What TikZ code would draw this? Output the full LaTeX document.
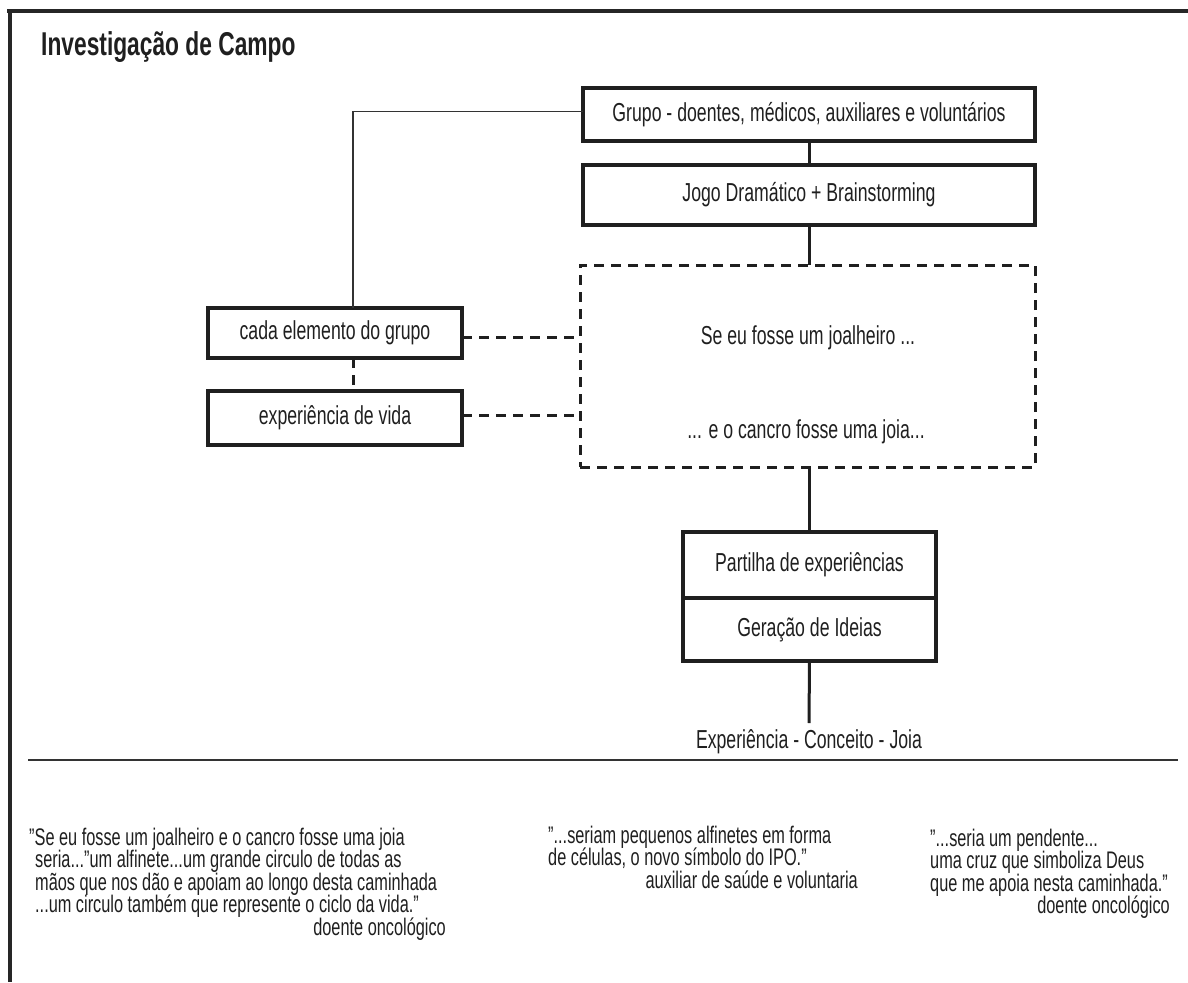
\documentclass[tikz,border=0pt]{standalone}
\usepackage{fontspec}
\setmainfont{Liberation Sans}[FakeStretch=0.68]
\newfontfamily\titlefont{Liberation Sans}[FakeStretch=0.69]
\usetikzlibrary{positioning}
\newcommand{\reticencias}{...}

\begin{document}
\begin{tikzpicture}[x=1pt,y=-1pt,
  caixa/.style={draw=black!88, line width=3.2pt, inner sep=0pt, outer sep=0pt, text=black!88, font=\fontsize{26}{28}\selectfont},
  texto/.style={inner sep=0pt, text=black!88, font=\fontsize{26}{28}\selectfont},
  ligacao/.style={draw=black!88, line width=3pt},
  tracejado/.style={draw=black!88, line width=3pt, dash pattern=on 10pt off 7pt},
  fino/.style={draw=black!80, line width=1.3pt},
  citacao/.style={anchor=base west, inner sep=0pt, text=black!88, font=\fontsize{24}{26}\selectfont},
  autor/.style={anchor=base east, inner sep=0pt, text=black!88, font=\fontsize{24}{26}\selectfont}]
  \useasboundingbox (0,0) rectangle (1188,982);
  % moldura
  \draw[line width=4pt, black!85] (7,11) -- (1188,11);
  \draw[line width=4pt, black!85] (10,11) -- (10,982);
  \node[anchor=base west, inner sep=0pt, text=black!88, font=\titlefont\bfseries\fontsize{33}{36}\selectfont] (titulo) at (41,56) {Investigação de Campo};

  % esquema
  \node[caixa, minimum width=452pt, minimum height=53pt] (grupo) at (809,114.5) {Grupo - doentes, médicos, auxiliares e voluntários};
  \node[caixa, minimum width=452pt, minimum height=60pt] (jogo) at (809,195) {Jogo Dramático + Brainstorming};
  \node[caixa, tracejado, minimum width=455pt, minimum height=202pt] (joalheiro) at (807.5,366) {};
  \node[texto] (sefosse) at (808,338) {Se eu fosse um joalheiro ...};
  \node[texto] (cancro) at (806,432) {... e o cancro fosse uma joia...};
  \node[caixa, minimum width=254pt, minimum height=50pt] (cada) at (335,333) {cada elemento do grupo};
  \node[caixa, minimum width=254pt, minimum height=54pt, below=33pt of cada] (vida) {experiência de vida};
  \node[caixa, minimum width=253pt, minimum height=66pt] (partilha) at (809.5,565) {Partilha de experiências};
  \node[caixa, minimum width=253pt, minimum height=63pt, below=0pt of partilha] (geracao) {Geração de Ideias};
  \node[texto, anchor=base] (resultado) at (809,748) {Experiência - Conceito - Joia};
  \coordinate (fimlinha) at (809,723);

  \draw[ligacao] (grupo.south) -- (jogo.north);
  \draw[ligacao] (jogo.south) -- (jogo.south |- joalheiro.north);
  \draw[ligacao] (joalheiro.south -| partilha.north) -- (partilha.north);
  \draw[ligacao] (geracao.south) -- (fimlinha);
  \draw[fino] ([yshift=3pt]grupo.west) -| ([xshift=18pt]cada.north);
  \draw[tracejado] ([xshift=18pt]cada.south) -- ([xshift=18pt]vida.north);
  \draw[tracejado] ([yshift=-4pt]cada.east) -- ([yshift=-4pt]cada.east -| joalheiro.west);
  \draw[tracejado] ([yshift=3pt]vida.east) -- ([yshift=3pt]vida.east -| joalheiro.west);

  \draw[line width=2.2pt, black!80] (28,760) -- (1178,760);

  % citacoes
  \foreach \linha [count=\i from 0] in {{"Se eu fosse um joalheiro e o cancro fosse uma joia},
      {\hspace{6pt}seria\reticencias"um alfinete\reticencias um grande circulo de todas as},
      {\hspace{6pt}mãos que nos dão e apoiam ao longo desta caminhada},
      {\hspace{6pt}\reticencias um circulo também que represente o ciclo da vida."}}
    \node[citacao] (cita-\i) at (29,845+22.5*\i) {\linha};
  \node[autor] (autora) at (446,935) {doente oncológico};

  \foreach \linha [count=\i from 0] in {{"\reticencias seriam pequenos alfinetes em forma},
      {de células, o novo símbolo do IPO."}}
    \node[citacao] (citb-\i) at (548,843+22.5*\i) {\linha};
  \node[autor] (autorb) at (858,888) {auxiliar de saúde e voluntaria};

  \foreach \linha [count=\i from 0] in {{"\reticencias seria um pendente\reticencias},
      {uma cruz que simboliza Deus},
      {que me apoia nesta caminhada."}}
    \node[citacao] (citc-\i) at (930,846+22.5*\i) {\linha};
  \node[autor] (autorc) at (1170,913.5) {doente oncológico};
\end{tikzpicture}
\end{document}
